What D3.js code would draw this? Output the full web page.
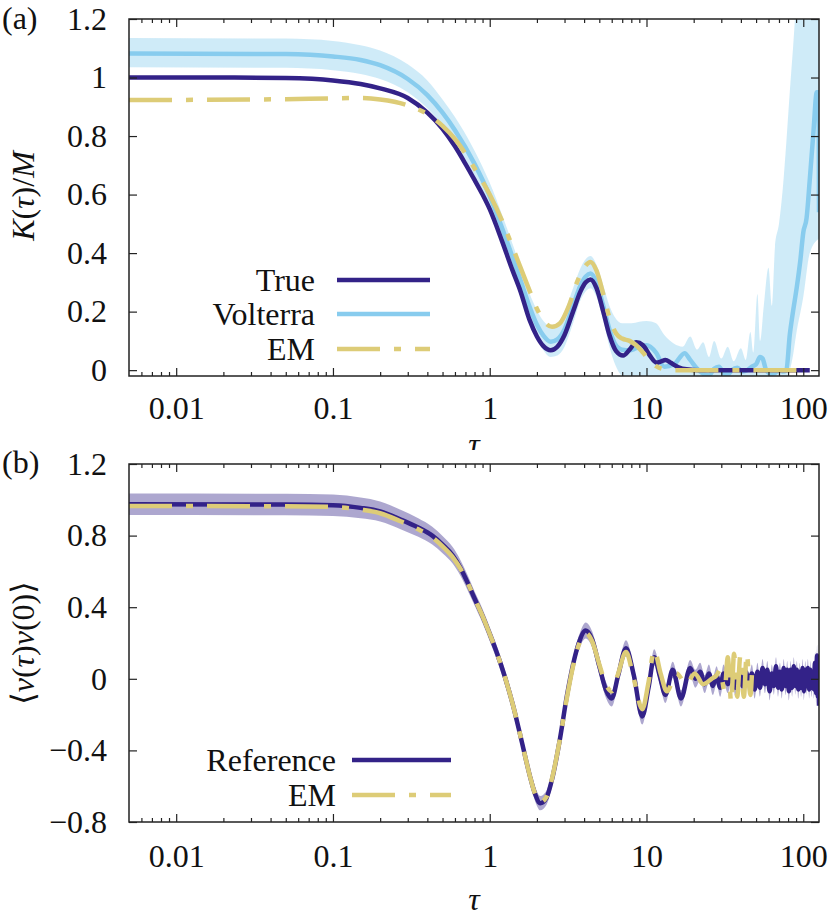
<!DOCTYPE html>
<html>
<head>
<meta charset="utf-8">
<script src="https://cdn.jsdelivr.net/npm/d3@7"></script>
<style>
  html, body { margin: 0; padding: 0; background: #fff; }
  svg { display: block; }
</style>
</head>
<body>
<svg id="fig" width="830" height="919"></svg>
<script>
// ---- data ----------------------------------------------------------------
const xTicks = [0.01, 0.1, 1, 10, 100];
const xTickLabels = ["0.01", "0.1", "1", "10", "100"];
const yTicksA = [0, 0.2, 0.4, 0.6, 0.8, 1, 1.2];
const yTickLabelsA = ["0", "0.2", "0.4", "0.6", "0.8", "1", "1.2"];
const yTicksB = [-0.8, -0.4, 0, 0.4, 0.8, 1.2];
const yTickLabelsB = ["\u22120.8", "\u22120.4", "0", "0.4", "0.8", "1.2"];

// (a) memory kernel K(tau)/M : [tau, value]
const trueKernel = [
  [0.005,1.0],[0.02,1.0],[0.05,0.998],[0.1,0.99],[0.15,0.978],[0.2,0.963],[0.3,0.93],
  [0.4,0.88],[0.5,0.825],[0.6,0.765],[0.7,0.705],[0.8,0.65],[0.9,0.6],[1.0,0.55],
  [1.2,0.44],[1.4,0.34],[1.57,0.27],[1.8,0.17],[2.0,0.115],[2.2,0.082],[2.45,0.068],
  [2.7,0.08],[3.0,0.12],[3.4,0.2],[3.8,0.27],[4.1,0.3],[4.4,0.31],[4.8,0.28],[5.3,0.2],
  [5.8,0.12],[6.4,0.065],[7.1,0.05],[7.8,0.07],[8.6,0.095],[9.5,0.085],[10.5,0.05],
  [11.6,0.026],[12.4,0.03],[13.2,0.035],[14.3,0.025],[16,0.01],[18,0.003],[22,0],[110,0]
];
const emKernel = [
  [0.005,0.923],[0.05,0.926],[0.1,0.929],[0.15,0.93],[0.2,0.925],[0.3,0.905],[0.4,0.875],
  [0.5,0.835],[0.6,0.79],[0.7,0.74],[0.8,0.69],[1.0,0.6],[1.2,0.51],[1.4,0.42],
  [1.6,0.34],[1.8,0.27],[2.0,0.21],[2.2,0.17],[2.5,0.148],[2.8,0.16],[3.2,0.22],
  [3.6,0.3],[4.0,0.35],[4.4,0.37],[4.8,0.34],[5.3,0.26],[5.8,0.18],[6.4,0.125],[7.0,0.108],
  [7.8,0.1],[8.6,0.085],[9.5,0.06],[10.5,0.032],[11.6,0.013],[13,0.003],[15,0],[110,0]
];
const volterraKernel = [
  [0.005,1.082],[0.05,1.08],[0.1,1.072],[0.15,1.06],[0.2,1.042],[0.3,0.995],[0.4,0.94],
  [0.5,0.88],[0.6,0.82],[0.8,0.705],[1.0,0.595],[1.2,0.485],[1.4,0.385],[1.6,0.295],[1.8,0.215],
  [2.0,0.155],[2.2,0.118],[2.45,0.097],[2.7,0.105],[3.0,0.14],[3.4,0.22],[3.8,0.29],[4.1,0.32],
  [4.4,0.33],[4.8,0.3],[5.3,0.22],[5.8,0.14],[6.3,0.09],[7.0,0.07],[7.8,0.068],[8.6,0.075],
  [10,0.085],[11.5,0.06],[13,0.012],[15,0.02],[17.5,0.058],[19,0.035],[21,0.005],[23,-0.012],
  [25,-0.018],[27,0.005],[29,0.012],[31,-0.01],[33,-0.015],[35,0.0],[38,0.008],[41,-0.005],
  [44,0.0],[47,0.012],[50,0.02],[53,0.045],[55,0.04],[58,0.0],[62,-0.012],[66,-0.01],
  [70,0.0],[74,-0.005],[78,0.0],[82,0.12],[86,0.2],[91,0.285],[96,0.38],[100,0.47],
  [105,0.52],[110,0.65],[116,0.81],[122,0.95],[125.5,0.95],[126,0.54]
];
// Volterra uncertainty band : [tau, low, high]
const volterraBand = [
  [0.005,1.035,1.135],[0.05,1.033,1.133],[0.1,1.025,1.125],[0.15,1.012,1.11],[0.2,0.995,1.092],
  [0.3,0.95,1.045],[0.4,0.895,0.99],[0.5,0.835,0.925],[0.6,0.775,0.865],[0.8,0.665,0.75],
  [1.0,0.555,0.64],[1.2,0.445,0.53],[1.4,0.345,0.43],[1.6,0.255,0.34],[1.8,0.175,0.26],
  [2.0,0.11,0.205],[2.2,0.068,0.168],[2.45,0.045,0.15],[2.7,0.05,0.16],[3.0,0.08,0.2],
  [3.4,0.16,0.28],[3.8,0.24,0.35],[4.1,0.27,0.38],[4.4,0.28,0.39],[4.8,0.25,0.36],
  [5.3,0.17,0.29],[5.8,0.08,0.22],[6.3,0.02,0.18],[7.0,-0.02,0.16],[8,-0.03,0.16],
  [9,-0.03,0.165],[10,-0.03,0.168],[11.5,-0.03,0.16],[13,-0.03,0.12],[15,-0.03,0.09],
  [17,-0.03,0.08],[19,-0.03,0.115],[21,-0.03,0.07],[23,-0.03,0.095],[25,-0.03,0.045],
  [27,-0.03,0.1],[30,-0.03,0.04],[33,-0.03,0.08],[36,-0.03,0.03],[40,-0.03,0.075],
  [43,-0.03,0.035],[46,-0.03,0.13],[48,-0.03,0.06],[51,-0.03,0.26],[53,-0.03,0.1],
  [56,-0.03,0.22],[60,-0.03,0.35],[63,-0.03,0.22],[66,-0.03,0.42],[70,-0.03,0.5],
  [74,-0.03,0.62],[78,-0.03,0.78],[82,0.0,0.95],[86,0.05,1.1],[90,0.12,1.25],
  [100,0.25,1.4],[110,0.4,1.4],[126,0.45,1.4]
];

// (b) velocity autocorrelation : reference [tau, value, err]
const refVacf = [
  [0.005,0.975,0.06],[0.05,0.974,0.06],[0.1,0.97,0.06],[0.15,0.955,0.058],[0.2,0.935,0.056],
  [0.27,0.89,0.054],[0.35,0.845,0.052],[0.43,0.8,0.05],[0.5,0.75,0.048],[0.58,0.69,0.046],
  [0.65,0.62,0.044],[0.72,0.54,0.042],[0.79,0.46,0.04],[0.9,0.35,0.04],[1.0,0.25,0.04],
  [1.1,0.155,0.04],[1.25,0.01,0.04],[1.4,-0.14,0.04],[1.6,-0.35,0.04],[1.8,-0.54,0.04],
  [1.95,-0.645,0.04],[2.1,-0.695,0.04],[2.3,-0.665,0.04],[2.5,-0.56,0.04],[2.8,-0.34,0.04],
  [3.1,-0.1,0.04],[3.4,0.08,0.04],[3.7,0.2,0.04],[4.1,0.27,0.045],[4.5,0.22,0.045],
  [5.0,0.07,0.045],[5.5,-0.06,0.045],[6.0,-0.11,0.045],[6.6,0.02,0.045],[7.4,0.17,0.045],
  [8.3,0.02,0.045],[9.4,-0.21,0.045],[10.3,-0.05,0.045],[11.2,0.12,0.045],[12.2,0.01,0.045],
  [13.2,-0.09,0.045],[14.7,0.05,0.045],[16.6,-0.11,0.045],[19,0.06,0.045],[20.5,0.0,0.05],
  [22,0.04,0.05],[23.5,-0.03,0.05],[25,0.03,0.05],[26.5,-0.04,0.05],[28,0.02,0.05],
  [29.5,-0.05,0.05],[31,0.03,0.05],[33,-0.03,0.05],[35,0.04,0.05],[37,-0.05,0.05],
  [39,0.03,0.05],[41,-0.04,0.05],[43,0.04,0.05],[45,-0.03,0.05],[47,0.03,0.05],
  [49,-0.06,0.05],[51,0.04,0.05],[53,-0.05,0.05],[55,0.06,0.05],[57,-0.03,0.05],
  [59,0.05,0.05],[61,-0.07,0.05],[63,0.03,0.05],[65,-0.04,0.05],[67,0.07,0.05],
  [69,-0.05,0.05],[71,0.04,0.05],[73,-0.06,0.05],[75,0.06,0.05],[77,-0.04,0.05],
  [79,0.05,0.05],[81,-0.07,0.05],[83,0.05,0.05],[85,-0.05,0.05],[87,0.07,0.05],
  [89,-0.04,0.05],[91,0.05,0.05],[93,-0.06,0.05],[95,0.04,0.05],[97,-0.05,0.05],
  [99,0.06,0.05],[101,-0.07,0.05],[103,0.05,0.05],[105,-0.04,0.05],[107,0.06,0.05],
  [109,-0.06,0.05],[111,0.05,0.05],[113,-0.05,0.05],[115,0.04,0.05],[117,-0.06,0.05],
  [119,0.09,0.06],[121,-0.08,0.06],[122.5,0.13,0.06],[124,-0.1,0.06],[125,0.05,0.06],
  [126,-0.15,0.06]
];
const emVacf = [
  [0.005,0.965],[0.05,0.964],[0.1,0.96],[0.15,0.945],[0.2,0.925],[0.27,0.88],[0.35,0.835],
  [0.43,0.79],[0.5,0.74],[0.58,0.68],[0.65,0.615],[0.72,0.54],[0.79,0.46],[0.9,0.35],
  [1.0,0.25],[1.1,0.155],[1.25,0.01],[1.4,-0.14],[1.6,-0.35],[1.8,-0.54],[1.95,-0.645],
  [2.1,-0.69],[2.3,-0.66],[2.5,-0.555],[2.8,-0.34],[3.1,-0.11],[3.4,0.07],[3.7,0.19],
  [4.1,0.255],[4.5,0.21],[5.0,0.08],[5.5,-0.03],[6.0,-0.07],[6.6,0.03],[7.4,0.15],
  [8.3,0.0],[9.4,-0.17],[10.3,-0.02],[11.2,0.16],[12.3,0.03],[13.5,-0.07],[15.5,0.03],
  [18,-0.03],[20.3,0.03],[23,-0.03],[26,0.0],[28,0.02],[29.5,0.05],[31.5,-0.07],[33,0.12],
  [34.7,-0.13],[36.2,0.14],[37.9,-0.1],[39.7,0.13],[41.8,-0.1],[43.6,0.14],[46,-0.09],[47,0.02]
];

// ---- styles ----------------------------------------------------------------
const C_TRUE = "#332288", C_VOLT = "#88CCEE", C_EM = "#DDCC77";
const EM_DASH = "43,14,7,14";
const FS = 32;
const FONT = "'Liberation Serif', 'DejaVu Serif', 'Noto Serif', 'FreeSerif', Times, serif";

// ---- layout ----------------------------------------------------------------
const svg = d3.select("#fig");
const L = 129, R = 819;
const x = d3.scaleLog().domain([0.005, 126]).range([L, R]);
const minorTicks = [];
for (let d = 0.001; d <= 100; d *= 10)
  for (let k = 2; k <= 9; k++) { const v = d * k; if (v > 0.005 && v < 126) minorTicks.push(v); }

const txt = (g, xx, yy, s, anchor = "start") => g.append("text")
  .attr("x", xx).attr("y", yy).attr("text-anchor", anchor).attr("fill", "#111")
  .style("font-family", FONT).style("font-size", FS + "px").text(s);

function panel(g, y, top, bot, yTicks, yLabels, clipId) {
  g.append("clipPath").attr("id", clipId).append("rect")
    .attr("x", L).attr("y", top).attr("width", R - L).attr("height", bot - top);
  const plot = g.append("g").attr("clip-path", `url(#${clipId})`);

  const axes = g.append("g");
  const style = sel => {
    sel.select(".domain").remove();
    sel.selectAll("line").attr("stroke", "#222").attr("stroke-width", 1.2);
    sel.selectAll("text").style("font-family", FONT).style("font-size", FS + "px").attr("fill", "#111");
  };
  axes.append("g").attr("transform", `translate(0,${bot})`)
    .call(d3.axisBottom(x).tickValues(xTicks).tickSize(-8).tickPadding(bot > 500 ? 22 : 20)
      .tickFormat((d, i) => xTickLabels[i])).call(style);
  axes.append("g").attr("transform", `translate(0,${bot})`)
    .call(d3.axisBottom(x).tickValues(minorTicks).tickSize(-4).tickFormat("")).call(style);
  axes.append("g").attr("transform", `translate(0,${top})`)
    .call(d3.axisTop(x).tickValues(xTicks).tickSize(-8).tickFormat("")).call(style);
  axes.append("g").attr("transform", `translate(0,${top})`)
    .call(d3.axisTop(x).tickValues(minorTicks).tickSize(-4).tickFormat("")).call(style);
  axes.append("g").attr("transform", `translate(${L},0)`)
    .call(d3.axisLeft(y).tickValues(yTicks).tickSize(-8).tickPadding(22)
      .tickFormat((d, i) => yLabels[i])).call(style);
  axes.append("g").attr("transform", `translate(${R},0)`)
    .call(d3.axisRight(y).tickValues(yTicks).tickSize(-8).tickFormat("")).call(style);
  axes.append("rect").attr("x", L).attr("y", top).attr("width", R - L).attr("height", bot - top)
    .attr("fill", "none").attr("stroke", "#222").attr("stroke-width", 1.5);
  return { plot, axes };
}

const line = y => d3.line().x(d => x(d[0])).y(d => y(d[1])).curve(d3.curveMonotoneX);

// ---- panel (a) -------------------------------------------------------------
const topA = 19, botA = 376;
const yA = d3.scaleLinear().domain([-0.02, 1.2]).range([botA, topA]);
const gA = svg.append("g");
const pA = panel(gA, yA, topA, botA, yTicksA, yTickLabelsA, "clipA");

pA.plot.append("path").datum(volterraBand)
  .attr("d", d3.area().x(d => x(d[0])).y0(d => yA(d[1])).y1(d => yA(d[2])).curve(d3.curveMonotoneX))
  .attr("fill", C_VOLT).attr("fill-opacity", 0.4);
pA.plot.append("path").datum(volterraKernel).attr("d", line(yA))
  .attr("fill", "none").attr("stroke", C_VOLT).attr("stroke-width", 4.5);
pA.plot.append("path").datum(trueKernel).attr("d", line(yA))
  .attr("fill", "none").attr("stroke", C_TRUE).attr("stroke-width", 4.5);
pA.plot.append("path").datum(emKernel).attr("d", line(yA))
  .attr("fill", "none").attr("stroke", C_EM).attr("stroke-width", 4.5).attr("stroke-dasharray", EM_DASH);

// legend (a)
const legA = [["True", C_TRUE, null, 280], ["Volterra", C_VOLT, null, 314], ["EM", C_EM, EM_DASH, 349]];
legA.forEach(([name, col, dash, ly]) => {
  txt(gA, 315, ly + 11, name, "end");
  gA.append("line").attr("x1", 337).attr("x2", 430).attr("y1", ly).attr("y2", ly)
    .attr("stroke", col).attr("stroke-width", 4.5).attr("stroke-dasharray", dash);
});

txt(gA, 2, 29, "(a)");
const ylabA = txt(gA, 0, 0, "", "middle").attr("transform", "translate(34,196) rotate(-90)");
ylabA.append("tspan").attr("font-style", "italic").text("K");
ylabA.append("tspan").text("(");
ylabA.append("tspan").attr("font-style", "italic").text("\u03C4");
ylabA.append("tspan").text(")/");
ylabA.append("tspan").attr("font-style", "italic").text("M");
txt(gA, (L + R) / 2, 455, "\u03C4", "middle").attr("font-style", "italic");

// ---- panel (b) -------------------------------------------------------------
const gB = svg.append("g");
gB.append("rect").attr("x", 0).attr("y", 450).attr("width", 830).attr("height", 469).attr("fill", "#fff");
const topB = 464, botB = 822;
const yB = d3.scaleLinear().domain([-0.8, 1.2]).range([botB, topB]);
const pB = panel(gB, yB, topB, botB, yTicksB, yTickLabelsB, "clipB");

pB.plot.append("path").datum(refVacf)
  .attr("d", d3.area().x(d => x(d[0])).y0(d => yB(d[1] - d[2])).y1(d => yB(d[1] + d[2])).curve(d3.curveMonotoneX))
  .attr("fill", C_TRUE).attr("fill-opacity", 0.4);
pB.plot.append("path").datum(refVacf).attr("d", line(yB))
  .attr("fill", "none").attr("stroke", C_TRUE).attr("stroke-width", 4.5);
pB.plot.append("path").datum(emVacf).attr("d", line(yB))
  .attr("fill", "none").attr("stroke", C_EM).attr("stroke-width", 4.5).attr("stroke-dasharray", EM_DASH);

const legB = [["Reference", C_TRUE, null, 760], ["EM", C_EM, EM_DASH, 795]];
legB.forEach(([name, col, dash, ly]) => {
  txt(gB, 336, ly + 11, name, "end");
  gB.append("line").attr("x1", 352).attr("x2", 451).attr("y1", ly).attr("y2", ly)
    .attr("stroke", col).attr("stroke-width", 4.5).attr("stroke-dasharray", dash);
});

txt(gB, 2, 473, "(b)");
const ylabB = txt(gB, 0, 0, "", "middle").attr("transform", "translate(34,643) rotate(-90)");
ylabB.append("tspan").text("\u27E8");
ylabB.append("tspan").attr("font-style", "italic").text("v");
ylabB.append("tspan").text("(");
ylabB.append("tspan").attr("font-style", "italic").text("\u03C4");
ylabB.append("tspan").text(")");
ylabB.append("tspan").attr("font-style", "italic").text("v");
ylabB.append("tspan").text("(0)\u27E9");
txt(gB, (L + R) / 2, 910, "\u03C4", "middle").attr("font-style", "italic");
</script>
</body>
</html>
